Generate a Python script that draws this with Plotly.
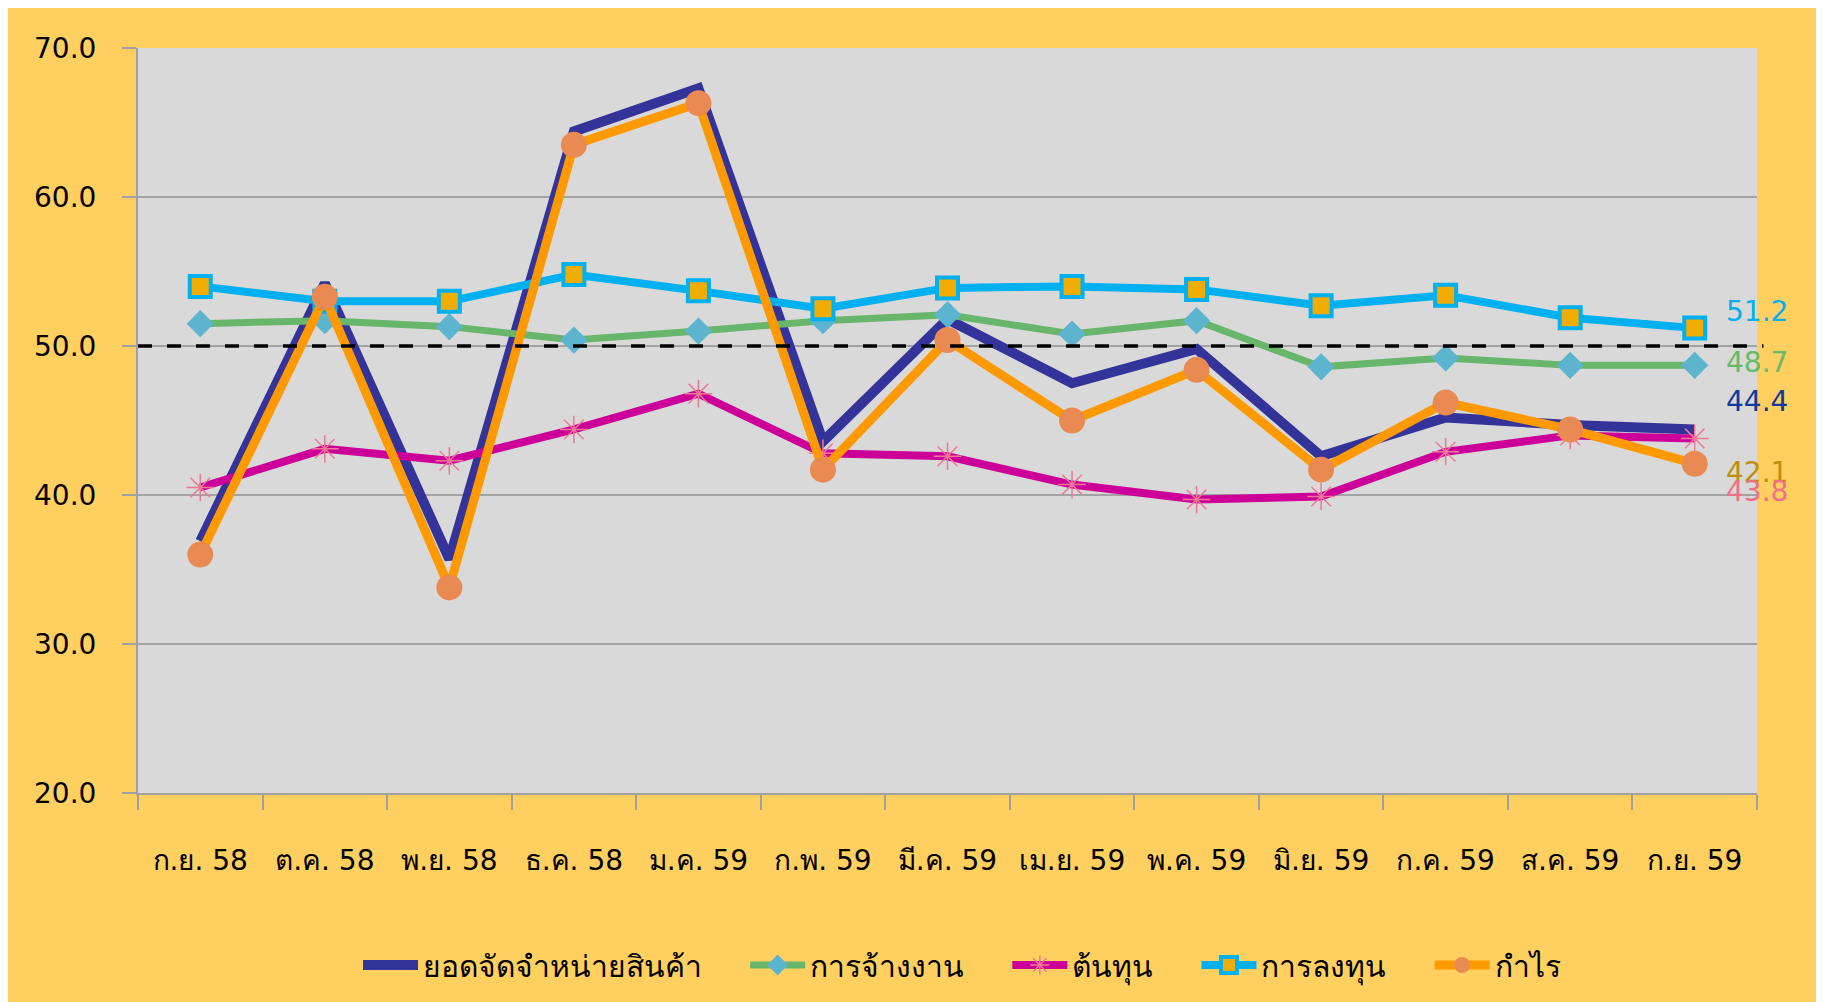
import plotly.graph_objects as go

months = ["ก.ย. 58", "ต.ค. 58", "พ.ย. 58", "ธ.ค. 58", "ม.ค. 59", "ก.พ. 59", "มี.ค. 59",
          "เม.ย. 59", "พ.ค. 59", "มิ.ย. 59", "ก.ค. 59", "ส.ค. 59", "ก.ย. 59"]
sales = [36.9, 54.2, 35.7, 64.4, 67.3, 43.6, 51.8, 47.5, 49.8, 42.6, 45.2, 44.7, 44.4]
employ = [51.5, 51.7, 51.3, 50.4, 51.0, 51.7, 52.1, 50.8, 51.7, 48.6, 49.2, 48.7, 48.7]
cost = [40.5, 43.1, 42.3, 44.4, 46.8, 42.8, 42.6, 40.7, 39.7, 39.9, 42.9, 44.0, 43.8]
invest = [54.0, 53.0, 53.0, 54.8, 53.7, 52.5, 53.9, 54.0, 53.8, 52.7, 53.4, 51.9, 51.2]
profit = [36.0, 53.3, 33.8, 63.5, 66.3, 41.7, 50.4, 45.0, 48.4, 41.7, 46.2, 44.4, 42.1]
names = ["ยอดจัดจำหน่ายสินค้า", "การจ้างงาน", "ต้นทุน", "การลงทุน", "กำไร"]
threshold = 50
y_ticks = [20, 30, 40, 50, 60, 70]

W, H = 1824, 1002
L, R, T, B = 130, 75, 40, 217
PW, PH = W - L - R, H - T - B

FONT = "DejaVu Sans, Tahoma, sans-serif"
YEL = "#FFD05F"
PAD = "\u00a0" * 4


def leg(i):
    return names[i] + (PAD if i < len(names) - 1 else "")


fig = go.Figure()
fig.add_trace(go.Scatter(x=months, y=sales, name=leg(0), mode="lines",
                         line=dict(color="#333399", width=10)))
fig.add_trace(go.Scatter(x=months, y=employ, name=leg(1), mode="lines+markers",
                         line=dict(color="#68B56C", width=7),
                         marker=dict(symbol="diamond", size=21, color="#5DB4CF",
                                     line=dict(width=0))))
fig.add_trace(go.Scatter(x=months, y=cost, name=leg(2), mode="lines+markers",
                         line=dict(color="#CC0099", width=8),
                         marker=dict(symbol="asterisk-open", size=23, color="#F07896",
                                     line=dict(color="#F07896", width=1.5))))
fig.add_trace(go.Scatter(x=months, y=invest, name=leg(3), mode="lines+markers",
                         line=dict(color="#00B0F0", width=8),
                         marker=dict(symbol="square", size=21, color="#F0AC00",
                                     line=dict(color="#00B0F0", width=4))))
fig.add_trace(go.Scatter(x=months, y=profit, name=leg(4), mode="lines+markers",
                         line=dict(color="#FF9900", width=9),
                         marker=dict(symbol="circle", size=26, color="#E98A53",
                                     line=dict(width=0))))

# threshold line
fig.add_shape(type="line", xref="paper", yref="y", x0=0, x1=1.004, y0=threshold, y1=threshold,
              line=dict(color="black", width=3.5, dash="14px,15px"), layer="above")

# end labels
end_labels = [
    (invest[-1], "#00B0F0", 17),
    (employ[-1], "#66BB6A", 3),
    (sales[-1], "#103A9C", 28),
    (profit[-1], "#C08E0A", -9),
    (cost[-1], "#F07088", -53),
]
for val, col, ys in end_labels:
    fig.add_annotation(x=months[-1], y=val, xref="x", yref="y", text=f"{val:.1f}",
                       showarrow=False, xanchor="left", yanchor="middle", xshift=29, yshift=ys,
                       font=dict(family=FONT, size=28, color=col))

fig.update_layout(
    width=W, height=H,
    margin=dict(l=L, r=R, t=T, b=B, autoexpand=False),
    paper_bgcolor=YEL, plot_bgcolor="#D9D9D9",
    font=dict(family=FONT, size=28, color="black"),
    showlegend=True,
    legend=dict(orientation="h", x=(954 - L) / PW, xanchor="center",
                y=-(957 - (H - B)) / PH, yanchor="middle",
                font=dict(family=FONT, size=30), bgcolor="rgba(0,0,0,0)",
                itemwidth=55, tracegroupgap=0),
    hovermode=False,
)
fig.update_xaxes(type="category", range=[-0.5, len(months) - 0.5], tickson="boundaries",
                 ticks="outside", ticklen=15, tickcolor="#A0A0A0", tickwidth=2,
                 showline=True, linecolor="#A0A0A0", linewidth=2, showgrid=False,
                 tickfont=dict(family=FONT, size=28), ticklabelstandoff=41, zeroline=False)
fig.update_yaxes(range=[20, 70], tickvals=y_ticks, tickformat=".1f",
                 ticks="outside", ticklen=14, tickcolor="#A0A0A0", tickwidth=2,
                 showline=True, linecolor="#A0A0A0", linewidth=2,
                 showgrid=True, gridcolor="#A3A3A3", gridwidth=2,
                 tickfont=dict(family=FONT, size=28), ticklabelstandoff=20, zeroline=False)

fig.write_html("out.html")
